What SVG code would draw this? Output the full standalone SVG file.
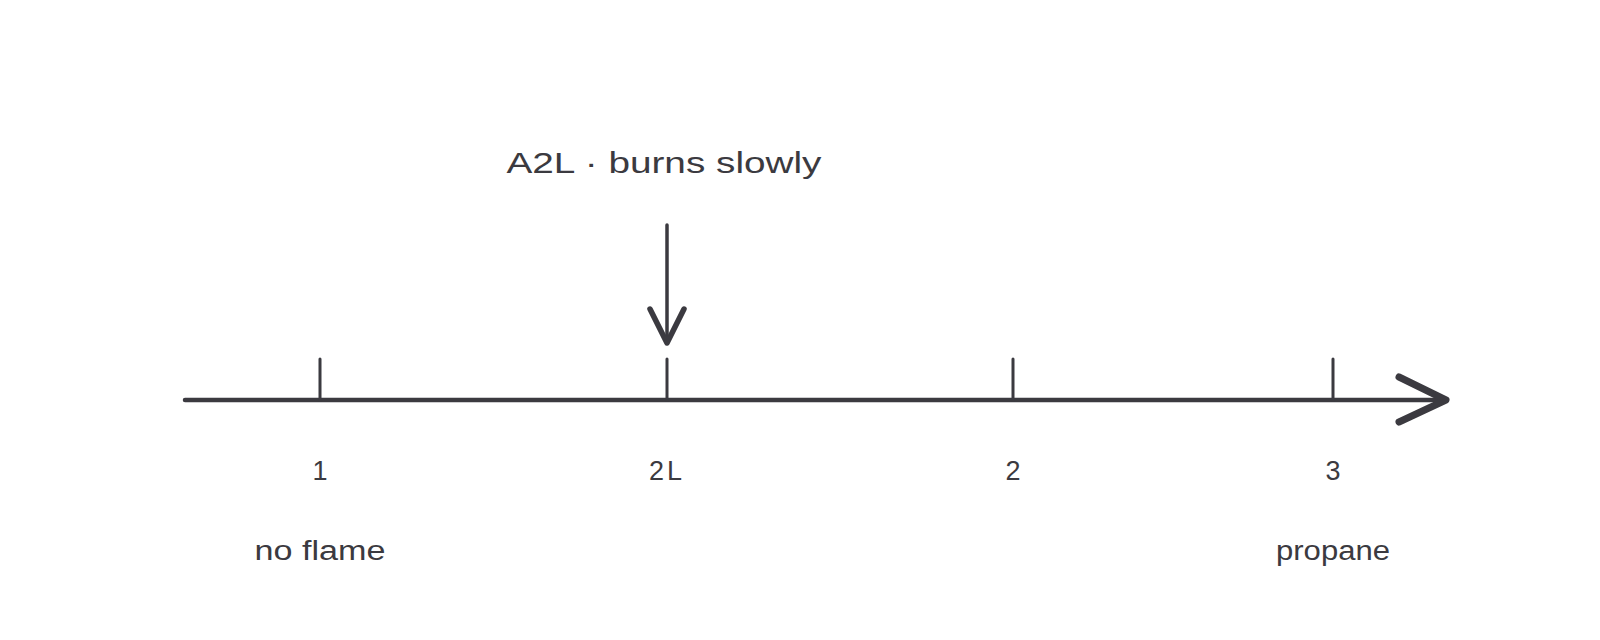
<svg xmlns="http://www.w3.org/2000/svg" width="1600" height="640" viewBox="0 0 1600 640">
<style>
.ln{stroke:#3b3a40;fill:none;stroke-linecap:round;stroke-linejoin:round}
.t{font-family:"Liberation Sans","DejaVu Sans",sans-serif;fill:#3b3a40;text-anchor:middle}
.num{font-size:27px}
.lab{font-size:27px}
.ttl{font-size:29px}
</style>
<rect width="1600" height="640" fill="#ffffff"/>
<g id="connectors">
  <g id="axis">
    <line class="ln" x1="185" y1="400" x2="1443" y2="400" stroke-width="4.5"/>
    <polyline class="ln" points="1399,377 1446,400 1399,422" stroke-width="7"/>
  </g>
  <g id="pointer">
    <line class="ln" x1="667" y1="225" x2="667" y2="342" stroke-width="3.5"/>
    <polyline class="ln" points="650,309 667,343 684,309" stroke-width="5.5"/>
  </g>
</g>
<g id="tick-1">
  <line class="ln" x1="320" y1="359" x2="320" y2="400" stroke-width="3"/>
  <text class="t num" x="320" y="480">1</text>
  <text class="t lab" x="320" y="560" textLength="131" lengthAdjust="spacingAndGlyphs">no flame</text>
</g>
<g id="tick-2L">
  <line class="ln" x1="667" y1="359" x2="667" y2="400" stroke-width="3"/>
  <text class="t num" x="667" y="480" letter-spacing="3">2L</text>
</g>
<g id="tick-2">
  <line class="ln" x1="1013" y1="359" x2="1013" y2="400" stroke-width="3"/>
  <text class="t num" x="1013" y="480">2</text>
</g>
<g id="tick-3">
  <line class="ln" x1="1333" y1="359" x2="1333" y2="400" stroke-width="3"/>
  <text class="t num" x="1333" y="480">3</text>
  <text class="t lab" x="1333" y="560" textLength="114" lengthAdjust="spacingAndGlyphs">propane</text>
</g>
<g id="callout">
  <text class="t ttl" x="664" y="173" textLength="315" lengthAdjust="spacingAndGlyphs">A2L · burns slowly</text>
</g>
</svg>
